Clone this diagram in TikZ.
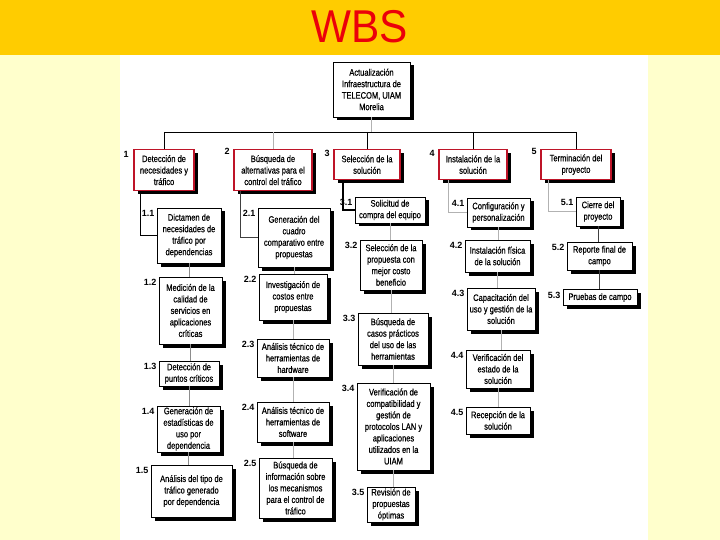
\documentclass[tikz,border=0pt]{standalone}
\usepackage{fontspec}
\setmainfont{Liberation Sans}
\newfontfamily\nar[FakeStretch=0.8,FakeBold=0.5]{Liberation Sans}
\newfontfamily\titlefont[FakeStretch=0.92]{Liberation Sans}
\usetikzlibrary{shadows}
\definecolor{band}{RGB}{255,204,0}
\definecolor{paleyellow}{RGB}{255,255,204}
\definecolor{wbsred}{RGB}{190,20,40}
\definecolor{titlered}{RGB}{235,0,10}
\tikzset{
  box/.style={draw=black, line width=0.8pt, fill=white, align=center, inner sep=0.5pt,
    font=\nar\fontsize{9.4}{11.5}\selectfont,
    drop shadow={shadow xshift=3.5pt, shadow yshift=-3.5pt, fill=black, opacity=1}},
  lonebox/.style={box, draw=wbsred, line width=1.2pt, anchor=north},
  num/.style={font=\bfseries\fontsize{9}{10}\selectfont, anchor=north east, inner sep=0.5pt},
  drop/.style={draw=black, line width=0.8pt},
  grayline/.style={draw=black!30, line width=0.6pt},
  darkline/.style={draw=black!75, line width=0.7pt},
}
\begin{document}
\begin{tikzpicture}[x=1pt,y=-1pt]
\useasboundingbox (0,0) rectangle (720,540);
\fill[paleyellow] (0,0) rectangle (720,540);
\fill[band] (0,0) rectangle (720,55);
\fill[white] (120,55) rectangle (648,540);
\node[font=\titlefont\fontsize{46}{50}\selectfont, text=titlered] (title) at (360,27) {WBS};

% top node
\node[box, minimum width=77pt, minimum height=55pt] (top) at (371.5,89.5)
  {Actualización\\Infraestructura de\\TELECOM, UIAM\\Morelia};

% level 1
\node[lonebox, minimum width=60pt, minimum height=41pt] (b1) at (164,149) {Detección de\\necesidades y\\tráfico};
\node[lonebox, minimum width=78pt, minimum height=41pt] (b2) at (273,149) {Búsqueda de\\alternativas para el\\control del tráfico};
\node[lonebox, minimum width=66pt, minimum height=30pt] (b3) at (367,149) {Selección de la\\solución};
\node[lonebox, minimum width=68pt, minimum height=30pt] (b4) at (473,149) {Instalación de la\\solución};
\node[lonebox, minimum width=70pt, minimum height=30pt] (b5) at (576,149) {Terminación del\\proyecto};
\node[num, xshift=-4pt, yshift=-2pt] (lb1) at (b1.north west) {1};
\node[num, xshift=-3pt, yshift=1pt] (lb2) at (b2.north west) {2};
\node[num, xshift=-3pt, yshift=-1pt] (lb3) at (b3.north west) {3};
\node[num, xshift=-3pt, yshift=-1pt] (lb4) at (b4.north west) {4};
\node[num, xshift=-3pt, yshift=1pt] (lb5) at (b5.north west) {5};

% column 1
\node[box, minimum width=64pt, minimum height=55pt] (n11) at (189,235.5) {Dictamen de\\necesidades de\\tráfico por\\dependencias};
\node[box, minimum width=63pt, minimum height=67pt] (n12) at (190.5,310.5) {Medición de la\\calidad de\\servicios en\\aplicaciones\\críticas};
\node[box, minimum width=60pt, minimum height=25pt] (n13) at (189,373.5) {Detección de\\puntos críticos};
\node[box, minimum width=63pt, minimum height=46pt] (n14) at (188.5,429) {Generación de\\estadísticas de\\uso por\\dependencia};
\node[box, minimum width=81pt, minimum height=52pt] (n15) at (191.5,491) {Análisis del tipo de\\tráfico generado\\por dependencia};

% column 2
\node[box, minimum width=72pt, minimum height=59pt] (n21) at (294,237.5) {Generación del\\cuadro\\comparativo entre\\propuestas};
\node[box, minimum width=68pt, minimum height=46pt] (n22) at (293,297) {Investigación de\\costos entre\\propuestas};
\node[box, minimum width=72pt, minimum height=38pt] (n23) at (293,358) {Análisis técnico de\\herramientas de\\hardware};
\node[box, minimum width=72pt, minimum height=40pt] (n24) at (293,422) {Análisis técnico de\\herramientas de\\software};
\node[box, minimum width=73pt, minimum height=60pt] (n25) at (295.5,488) {Búsqueda de\\información sobre\\los mecanismos\\para el control de\\tráfico};

% column 3
\node[box, minimum width=70pt, minimum height=26pt] (n31) at (390,210) {Solicitud de\\compra del equipo};
\node[box, minimum width=62pt, minimum height=50pt] (n32) at (391,265) {Selección de la\\propuesta con\\mejor costo\\beneficio};
\node[box, minimum width=70pt, minimum height=52pt] (n33) at (393,339) {Búsqueda de\\casos prácticos\\del uso de las\\herramientas};
\node[box, minimum width=73pt, minimum height=87pt] (n34) at (393.5,426.5) {Verificación de\\compatibilidad y\\gestión de\\protocolos LAN y\\aplicaciones\\utilizados en la\\UIAM};
\node[box, minimum width=48pt, minimum height=35pt] (n35) at (391,504.5) {Revisión de\\propuestas\\óptimas};

% column 4
\node[box, minimum width=63pt, minimum height=29pt] (n41) at (498.5,212.5) {Configuración y\\personalización};
\node[box, minimum width=65pt, minimum height=32pt] (n42) at (497.5,256) {Instalación física\\de la solución};
\node[box, minimum width=68pt, minimum height=42pt] (n43) at (501,309) {Capacitación del\\uso y gestión de la\\solución};
\node[box, minimum width=64pt, minimum height=38pt] (n44) at (498,369) {Verificación del\\estado de la\\solución};
\node[box, minimum width=64pt, minimum height=27pt] (n45) at (498,420.5) {Recepción de la\\solución};

% column 5
\node[box, minimum width=44pt, minimum height=29pt] (n51) at (598,211.5) {Cierre del\\proyecto};
\node[box, minimum width=65pt, minimum height=28pt] (n52) at (599.5,256) {Reporte final de\\campo};
\node[box, minimum width=74pt, minimum height=16pt] (n53) at (600,297.5) {Pruebas de campo};

% sub labels
\foreach \n/\t in {n11/1.1,n12/1.2,n13/1.3,n14/1.4,n15/1.5,
                   n21/2.1,n22/2.2,n23/2.3,n24/2.4,n25/2.5,
                   n31/3.1,n32/3.2,n33/3.3,n34/3.4,n35/3.5,
                   n41/4.1,n42/4.2,n43/4.3,n44/4.4,n45/4.5,
                   n51/5.1,n52/5.2,n53/5.3}{
  \node[num, xshift=-1.5pt, yshift=-2pt] (l\n) at (\n.north west) {\t};
}

% connectors top
\coordinate (bar) at (0,132);
\draw[grayline] (top.south) -- (top.south |- bar);
\draw[drop] (b1.north |- bar) -- (b5.north |- bar);
\draw[drop] (b1.north |- bar) -- (b1.north);
\draw[grayline] (b2.north |- bar) -- (b2.north);
\draw[drop] (b3.north |- bar) -- (b3.north);
\draw[drop] (b4.north |- bar) -- (b4.north);
\draw[drop] (b5.north |- bar) -- (b5.north);

% column drops
\coordinate (c1) at (140,0);
\coordinate (c2) at (240,0);
\coordinate (c3) at (343,0);
\coordinate (c4) at (448,0);
\coordinate (c5) at (548,0);
\draw[drop] (b1.south -| c1) |- (n11.west);
\draw[darkline] (b2.south -| c2) |- (n21.west);
\draw[drop, line width=1.4pt] (b3.south -| c3) |- (n31.west);
\draw[grayline] (b4.south -| c4) |- (n41.west);
\draw[grayline] (b5.south -| c5) |- (n51.west);

% in-column lines
\foreach \a/\b in {n11/n12,n12/n13,n13/n14,n14/n15}{
  \draw[grayline, draw=black!45] (\a.south) -- (\a.south |- \b.north);
}
\foreach \a/\b in {n21/n22,n22/n23,n23/n24,n24/n25,
                   n31/n32,n32/n33,n33/n34,n34/n35,
                   n41/n42,n42/n43,n43/n44,n44/n45}{
  \draw[grayline] (\a.south) -- (\a.south |- \b.north);
}
\foreach \a/\b in {n51/n52,n52/n53}{
  \draw[darkline] (\a.south) -- (\a.south |- \b.north);
}
\end{tikzpicture}
\end{document}
